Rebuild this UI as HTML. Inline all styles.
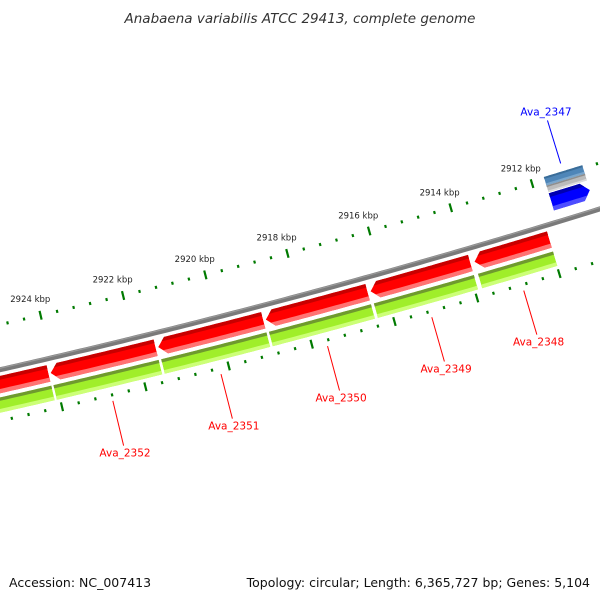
<!DOCTYPE html>
<html><head><meta charset="utf-8">
<style>
html,body{margin:0;padding:0;background:#fff;}
svg{display:block;font-family:"DejaVu Sans","Liberation Sans",sans-serif;}
</style></head>
<body>
<svg id="map" width="600" height="600" viewBox="0 0 600 600" xmlns="http://www.w3.org/2000/svg">
<text x="300" y="23" text-anchor="middle" font-size="13.5" font-style="italic" fill="#333">Anabaena variabilis ATCC 29413, complete genome</text>
<text x="9" y="587" font-size="12.5" fill="#111">Accession: NC_007413</text>
<text x="590" y="587" text-anchor="end" font-size="12.5" fill="#111">Topology: circular; Length: 6,365,727 bp; Genes: 5,104</text>
<defs id="defs"></defs>
<g id="layer"></g>
</svg>
<script>
// ---- data ----
const tickLabels = [2912, 2914, 2916, 2918, 2920, 2922, 2924];
const geneNames = ["Ava_2353", "Ava_2352", "Ava_2351", "Ava_2350", "Ava_2349", "Ava_2348"];
const geneStarts = [2927400, 2924080, 2921490, 2918890, 2916350, 2913820];
const geneEnds = [2924130, 2921550, 2918950, 2916420, 2913920, 2911990];
const geneLabelShown = [false, true, true, true, true, true];
const fwdName = "Ava_2347";
const fwdStart = 2911690;
const fwdEnd = 2910740;

// ---- geometry ----
const NS = "http://www.w3.org/2000/svg";
const CX = -1770, CY = -7432, R = 8000;
const T0 = 1.27725, K = 5.33e-6;
const layer = document.getElementById('layer');
const defs = document.getElementById('defs');
function ang(bp){ return T0 + (bp - 2912000) * K; }
function P(bp, r){ const t = ang(bp); return [CX + r*Math.cos(t), CY + r*Math.sin(t)]; }
function arcPts(a, b, r, n){ const out=[]; for(let i=0;i<=n;i++){ out.push(P(a+(b-a)*i/n, r)); } return out; }
function ptsStr(p){ return p.map(q=>q[0].toFixed(2)+','+q[1].toFixed(2)).join(' '); }
function mk(tag, attrs, parent){ const e=document.createElementNS(NS, tag); for(const k in attrs) e.setAttribute(k, attrs[k]); (parent||layer).appendChild(e); return e; }
const HEAD = 190;
function shape(a, b, r1, r2, arrow){
  const rm = (r1+r2)/2; let p=[];
  if(arrow==='hi'){
    p.push(P(a, rm)); p = p.concat(arcPts(a-HEAD, b, r1, 30)); p = p.concat(arcPts(b, a-HEAD, r2, 30));
  } else if(arrow==='lo'){
    p = p.concat(arcPts(a, b+HEAD, r1, 30)); p.push(P(b, rm)); p = p.concat(arcPts(b+HEAD, a, r2, 30));
  } else {
    p = p.concat(arcPts(a, b, r1, 30)); p = p.concat(arcPts(b, a, r2, 30));
  }
  return ptsStr(p);
}
function band(a, b, r1, r2){ return ptsStr(arcPts(a+400, b-400, r1, 30).concat(arcPts(b-400, a+400, r2, 30))); }
let clipId = 0;
function gene(name, a, b, r1, r2, arrow, main, top, bot){
  const g = mk('g', {});
  
  
  const cid = 'c' + (clipId++);
  const cp = mk('clipPath', {id: cid}, defs);
  mk('polygon', {points: shape(a,b,r1,r2,arrow)}, cp);
  const inner = mk('g', {'clip-path': 'url(#'+cid+')'}, g);
  mk('polygon', {points: shape(a,b,r1,r2,arrow), fill: main}, inner);
  const w = (r2-r1);
  mk('polygon', {points: band(a,b,r1-2,r1+w*0.22), fill: top}, inner);
  mk('polygon', {points: band(a,b,r2-w*0.25,r2+2), fill: bot}, inner);
  return g;
}

// backbone
(function(){
  const p = arcPts(2935000, 2905000, R, 200);
  const bb = mk('polyline', {points: ptsStr(p), fill:'none', stroke:'#7a7a7a', 'stroke-width':5});
  
  
  const hl = mk('polyline', {points: ptsStr(arcPts(2935000, 2905000, R-1.5, 200)), fill:'none', stroke:'#999', 'stroke-width':1.2});
  
  
})();

// ticks
[[R-44, 'upper'], [R+50, 'lower']].forEach(function(row){
  const rr = row[0];
  for(let bp = 2928000; bp >= 2908000; bp -= 400){
    const major = (bp % 2000 === 0);
    const len = major ? 4.5 : 1.5;
    const p1 = P(bp, rr-len), p2 = P(bp, rr+len);
    const t = mk('line', {x1:p1[0], y1:p1[1], x2:p2[0], y2:p2[1], stroke:'#007a00', 'stroke-width': 2.2});
    
    
  }
});
tickLabels.forEach(function(kb){
  const p = P(kb*1000 + 150, R-62);
  const t = mk('text', {x:p[0], y:p[1]+3, 'text-anchor':'middle', 'font-size':8.5, fill:'#222'});
  t.textContent = kb + ' kbp';
  
  
});

// reverse genes (red) + CDS (green)
for(let i=0;i<geneNames.length;i++){
  gene('gene-' + geneNames[i], geneStarts[i], geneEnds[i], R+6, R+23, i===0 ? 'none' : 'hi', '#ff0000', '#c80000', '#ff7373');
  gene('cds-' + geneNames[i], geneStarts[i], geneEnds[i], R+27, R+42, 'none', '#a0ee2a', '#6f9a2e', '#ccff77');
  if(geneLabelShown[i]){
    const mid = (geneStarts[i] + geneEnds[i]) / 2;
    const p1 = P(mid, R+56), p2 = P(mid, R+102), pt = P(mid, R+108);
    const l = mk('line', {x1:p1[0], y1:p1[1], x2:p2[0], y2:p2[1], stroke:'#ff0000', 'stroke-width':1});
    
    
    const t = mk('text', {x:pt[0], y:pt[1]+5, 'text-anchor':'middle', 'font-size':10.5, fill:'#ff0000'});
    t.textContent = geneNames[i];
    
    
  }
}

// forward gene (blue)
(function(){
  gene('cds-' + fwdName, fwdStart, fwdEnd, R-47, R-38, 'none', '#4f86b8', '#3a6d99', '#7aa6cc');
  gene('cds-lower-' + fwdName, fwdStart, fwdEnd, R-38, R-31, 'none', '#bcbcbc', '#8e8e8e', '#dcdcdc');
  gene('gene-' + fwdName, fwdStart, fwdEnd, R-30, R-12, 'lo', '#0000ff', '#0000b0', '#4d4dff');
  const mid = (fwdStart + fwdEnd) / 2;
  const p1 = P(mid, R-55), p2 = P(mid, R-100), pt = P(mid, R-105);
  const l = mk('line', {x1:p1[0], y1:p1[1], x2:p2[0], y2:p2[1], stroke:'#0000ff', 'stroke-width':1});
  
  
  const t = mk('text', {x:pt[0], y:pt[1], 'text-anchor':'middle', 'font-size':10.5, fill:'#0000ff'});
  t.textContent = fwdName;
  
  
})();
</script>
</body></html>
